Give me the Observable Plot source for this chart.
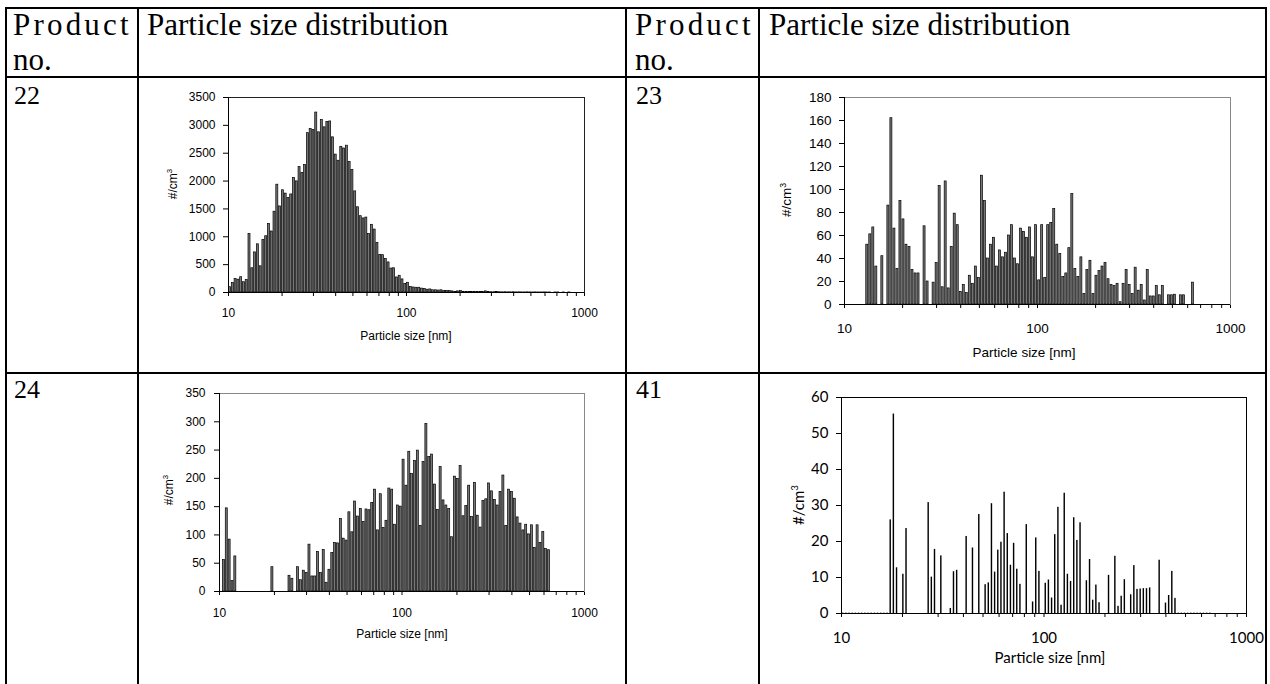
<!DOCTYPE html>
<html><head><meta charset="utf-8">
<script src="https://cdn.jsdelivr.net/npm/d3@7"></script>
<script src="https://cdn.jsdelivr.net/npm/@observablehq/plot@0.6"></script>
<style>
body{margin:0;background:#fff;width:1270px;height:684px;overflow:hidden;position:relative;font-family:"Liberation Serif",serif;}
.hl{position:absolute;height:2px;background:#000;}
.vl{position:absolute;width:2px;background:#000;}
.cell{position:absolute;font-size:31px;line-height:35px;color:#000;white-space:nowrap;}
.num{position:absolute;font-size:26px;line-height:26px;color:#000;font-family:"Liberation Serif",serif;}
.chart{position:absolute;}
.ax{position:absolute;white-space:nowrap;color:#000;transform:translate(-50%,-50%);}
.ay{position:absolute;white-space:nowrap;color:#000;transform:translate(-50%,-50%) rotate(-90deg);}
sup{font-size:65%;}
</style></head><body>
<script>
// ---------- data ----------
const headerProduct = ["Product", "no."];
const headerDist = "Particle size distribution";
const productNos = ["22", "23", "24", "41"];
const xTitle = "Particle size [nm]";
const yTitle = "#/cm";
const channelsPerDecade = 64;
const firstChannel = 10.2;           // nm, midpoint of the first SMPS channel
const xTicks = [10,20,30,40,50,60,70,80,90,100,200,300,400,500,600,700,800,900,1000];
const xLabels = [10, 100, 1000];

const start22 = 0;
const counts22 = [95,170,245,230,275,185,225,1050,435,720,865,470,940,1010,1230,1095,1450,1935,1545,1835,1775,1695,1760,2055,1995,2250,2145,2290,2860,2935,2915,3230,2875,3095,2965,3060,3070,2785,2475,2365,2615,2585,2635,2340,2200,1815,1530,1370,1330,1345,1050,1215,1130,890,675,670,600,540,430,435,270,300,235,155,175,100,90,85,85,70,65,50,55,40,40,35,40,25,30,25,20,12,20,25,12,12,12,12,12,10,8,12,20,8,5,5,8,5,3,5,3,3,5,2,3,2,2,3,2,1,2,1,1,2,1,1,0,1,1,0,1,0,1];
const yTicks22 = [0,500,1000,1500,2000,2500,3000,3500];

const start23 = 7;
const counts23 = [52,61,67,33,0,42,0,86,162,66,31,90,74,52,50,30,27,27,0,68,20,0,19,36,103,15,107,14,50,79,69,11,17,10,25,18,33,23,112,90,40,52,58,33,47,41,45,60,69,40,35,66,63,58,67,41,69,21,69,23,69,71,83,52,44,24,27,49,96,31,24,41,9,30,38,9,25,29,33,36,22,17,16,18,2,18,30,17,9,32,12,17,3.5,30,7,7,16,8,16,0,8,8,8.5,0,8,8,0,0,19];
const yTicks23 = [0,20,40,60,80,100,120,140,160,180];

const start24 = 1;
const counts24 = [55.6,147,91.7,18.3,62,0,0,0,0,0,0,0,0,0,0,0,0,43,0,0,0,0,0,27.8,22.5,0,43,20,36.7,33,82.8,26.6,26.6,69.8,32.5,73.3,15.4,38.4,68,85.7,85,128,93.4,90,140,104.7,159,132.5,146,123,145,143.7,156.7,180,108,172,112,125,182,180,118,152,150,233,187,247,208,231,249,116,229,296,238,242,189,144,220,161,152,146,96,203,199,222,133,151,187,132,192,134,113,160,163,191,177,162,152,176,205,116,180,176,164,131,120,108,118,101,117,77,117,86,105,75,73];
const yTicks24 = [0,50,100,150,200,250,300,350];

const start41 = 0;
const counts41 = [0.25,0.25,0.25,0.25,0.25,0.25,0.25,0.25,0.25,0.25,0.25,0.25,0.25,0.25,0.25,26,55.4,12.7,0,10.9,23.6,0,0,0,0,0,0,30.8,10.1,17.8,0,16,0,0,1.4,11.6,12,0,0,21.4,0,18.2,0,27.5,0,8,8.5,30.5,11.5,17.6,19.8,33.7,22.2,13.4,19.5,12.3,8.1,0,24.7,0,3.2,21,11.7,0,8.4,9.3,4.3,21.9,29.5,2.3,33.4,10.9,8.9,26.6,20.3,25.2,0,9.1,15,3.7,7.9,3,0,0,10.6,0,15.9,2,4.8,9.4,0,5.2,13.3,6.7,6.8,6.9,6.9,7.1,0,0,14.8,0,2.9,5,11.7,4.2,0.25,0.25,0.25,0.25,0.25,0.25,0.25,0.25,0.25,0.25,0.25];
const yTicks41 = [0,10,20,30,40,50,60];

// ---------- layout / styles ----------
const charts = [
  {counts: counts22, start: start22, yTicks: yTicks22, L:228, R:584, T:97, B:292, font:"'Liberation Sans', Arial, sans-serif", fs:12, xPad:12, yPad:8, frame:"#222", f:0.72, fill:"#777", stroke:"#000", sw:0.7, title:[406,336], ylab:[172,184]},
  {counts: counts23, start: start23, yTicks: yTicks23, L:844, R:1230, T:97, B:304, font:"'Liberation Sans', Arial, sans-serif", fs:13.5, xPad:15, yPad:8, frame:"#888", f:0.66, fill:"#777", stroke:"#000", sw:0.7, title:[1024,352], ylab:[786,200]},
  {counts: counts24, start: start24, yTicks: yTicks24, L:219, R:584, T:393, B:591, font:"'Liberation Sans', Arial, sans-serif", fs:12, xPad:13, yPad:9, frame:"#888", f:0.7, fill:"#777", stroke:"#000", sw:0.7, title:[402,634], ylab:[168,490]},
  {counts: counts41, start: start41, yTicks: yTicks41, L:841, R:1246, T:397, B:613, font:"Lato, 'Open Sans', sans-serif", fs:15, xPad:15, yPad:8, frame:"#000", f:0.45, fill:"#000", stroke:"none", sw:0, title:[1050,657], ylab:[797,505]}
];

function addDiv(cls, style, html) {
  const d = document.createElement("div");
  d.className = cls;
  Object.assign(d.style, style);
  d.innerHTML = html;
  document.body.appendChild(d);
  return d;
}

// table grid
const hLines = [[5,7,1262],[5,76,1262],[5,372,1262]];
for (const [x,y,w] of hLines) addDiv("hl", {left:x+"px", top:y+"px", width:w+"px"}, "");
const vLines = [5,137,625,758,1265];
for (const x of vLines) addDiv("vl", {left:x+"px", top:"7px", height:"677px"}, "");

// header text
for (const x0 of [13, 635]) {
  addDiv("cell", {left:x0+"px", top:"7px", letterSpacing:"3.2px"}, headerProduct[0]);
  addDiv("cell", {left:x0+"px", top:"42px"}, headerProduct[1]);
}
addDiv("cell", {left:"147px", top:"7px"}, headerDist);
addDiv("cell", {left:"769px", top:"7px"}, headerDist);
const numPos = [[14,83],[636,83],[14,377],[636,377]];
productNos.forEach((t,i)=> addDiv("num", {left:numPos[i][0]+"px", top:numPos[i][1]+"px"}, t));

// charts
for (const c of charts) {
  const half = c.f / (2 * channelsPerDecade);
  const table = c.counts.map((v, i) => {
    const d = firstChannel * 10 ** ((c.start + i) / channelsPerDecade);
    return {x1: d * 10 ** (-half), x2: d * 10 ** (half), v, col: v < 0.5 ? "#9a9a9a" : c.fill};
  }).filter(d => d.v > 0);
  const left = c.L - 80, top = c.T - 15;
  const width = c.R + 20 - left, height = c.B + 40 - top;
  const svg = Plot.plot({
    width, height,
    marginLeft: c.L - left, marginRight: left + width - c.R,
    marginTop: c.T - top, marginBottom: top + height - c.B,
    x: {type: "log", domain: [10, 1000], ticks: xTicks, tickFormat: d => xLabels.includes(d) ? String(d) : "", tickSize: 4, tickPadding: c.xPad, label: null},
    y: {domain: [0, c.yTicks[c.yTicks.length - 1]], ticks: c.yTicks, tickFormat: d => String(d), tickSize: 5, tickPadding: c.yPad, label: null},
    style: {fontFamily: c.font, fontSize: c.fs + "px", color: "#000", background: "transparent", overflow: "visible"},
    marks: [
      Plot.rect(table, {x1: "x1", x2: "x2", y1: 0, y2: "v", fill: "col", stroke: c.stroke, strokeWidth: c.sw}),
      Plot.frame({stroke: c.frame}),
      Plot.ruleX([10], {stroke: "#000"}),
      Plot.ruleY([0], {stroke: "#000"})
    ]
  });
  const wrap = addDiv("chart", {left: left + "px", top: top + "px"}, "");
  wrap.appendChild(svg);
  addDiv("ax", {left: c.title[0] + "px", top: c.title[1] + "px", fontFamily: c.font, fontSize: c.fs + "px"}, xTitle);
  addDiv("ay", {left: c.ylab[0] + "px", top: c.ylab[1] + "px", fontFamily: c.font, fontSize: c.fs + "px"}, yTitle + "<sup>3</sup>");
}
</script>
</body></html>
